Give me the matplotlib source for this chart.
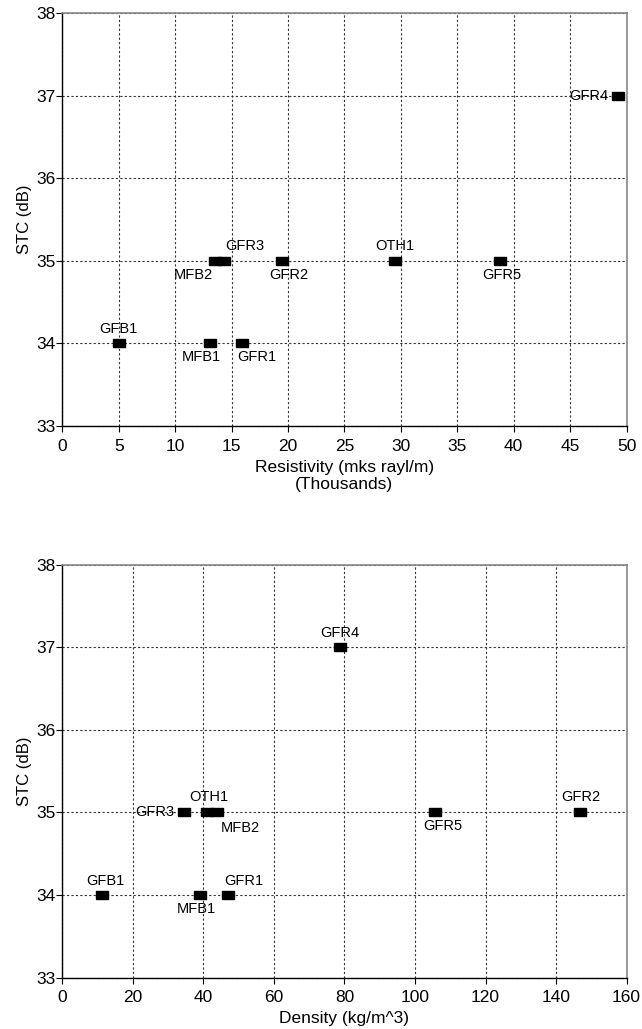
import numpy as np
import matplotlib.pyplot as plt

plt.rcParams['font.family'] = ['Liberation Sans', 'DejaVu Sans']

# top chart: STC vs flow resistivity (thousands of mks rayl/m)
res_names = ['GFB1', 'MFB1', 'GFR1', 'MFB2', 'GFR3', 'GFR2', 'OTH1', 'GFR5', 'GFR4']
res_x = [5.0, 13.1, 15.9, 13.5, 14.3, 19.5, 29.5, 38.8, 49.2]
res_stc = [34, 34, 34, 35, 35, 35, 35, 35, 37]

# bottom chart: STC vs density
den_names = ['GFB1', 'MFB1', 'GFR1', 'GFR3', 'OTH1', 'MFB2', 'GFR5', 'GFR2', 'GFR4']
den_x = [11.3, 39.1, 47.0, 34.6, 41.0, 44.0, 105.7, 146.9, 78.7]
den_stc = [34, 34, 34, 35, 35, 35, 35, 35, 37]

# label placement (pixel offsets, alignment)
res_lab = {
    'GFB1': (0, 7, 'center', 'bottom'),
    'MFB1': (-9, -7, 'center', 'top'),
    'GFR1': (15, -7, 'center', 'top'),
    'MFB2': (-21, -7, 'center', 'top'),
    'GFR3': (21, 8, 'center', 'bottom'),
    'GFR2': (6, -7, 'center', 'top'),
    'OTH1': (0, 8, 'center', 'bottom'),
    'GFR5': (2, -7, 'center', 'top'),
    'GFR4': (-9, 0, 'right', 'center'),
}
den_lab = {
    'GFB1': (3, 7, 'center', 'bottom'),
    'MFB1': (-4, -7, 'center', 'top'),
    'GFR1': (16, 7, 'center', 'bottom'),
    'GFR3': (-10, 0, 'right', 'center'),
    'OTH1': (2, 8, 'center', 'bottom'),
    'MFB2': (23, -9, 'center', 'top'),
    'GFR5': (8, -7, 'center', 'top'),
    'GFR2': (0, 8, 'center', 'bottom'),
    'GFR4': (0, 7, 'center', 'bottom'),
}

rect = [(-1, -0.64), (1, -0.64), (1, 0.64), (-1, 0.64), (-1, -0.64)]

fig = plt.figure(figsize=(6.42, 10.29), dpi=100)
ax1 = fig.add_axes([0.097, 0.586, 0.879, 0.401])
ax2 = fig.add_axes([0.097, 0.050, 0.879, 0.401])


def style(ax, xmax, xstep):
    ax.set_xlim(0, xmax)
    ax.set_ylim(33, 38)
    ax.set_xticks(np.arange(0, xmax + 1, xstep))
    ax.set_yticks(range(33, 39))
    ax.grid(True, color='#333333', linestyle=(0, (2, 2)), linewidth=0.8)
    ax.set_axisbelow(True)
    for s in ['top', 'right']:
        ax.spines[s].set_color('#888888')
        ax.spines[s].set_linewidth(1.2)
    for s in ['left', 'bottom']:
        ax.spines[s].set_color('black')
        ax.spines[s].set_linewidth(1.0)
    ax.tick_params(direction='out', length=4, width=0.8, labelsize=12.5)
    ax.tick_params(axis='y', pad=0.5)
    ax.tick_params(axis='x', pad=5)
    ax.set_ylabel('STC (dB)', fontsize=12, labelpad=3)


def draw(ax, names, xs, ys, lab):
    ax.plot(xs, ys, linestyle='none', marker=rect, markersize=8,
            color='black', clip_on=False, zorder=3)
    for n, x, y in zip(names, xs, ys):
        dx, dy, ha, va = lab[n]
        ax.annotate(n, (x, y), xytext=(dx, dy), textcoords='offset pixels',
                    ha=ha, va=va, fontsize=10.5)


style(ax1, 50, 5)
draw(ax1, res_names, res_x, res_stc, res_lab)
ax1.set_xlabel('Resistivity (mks rayl/m)\n(Thousands)', fontsize=12.5,
               labelpad=5, linespacing=1.15)

style(ax2, 160, 20)
draw(ax2, den_names, den_x, den_stc, den_lab)
ax2.set_xlabel('Density (kg/m^3)', fontsize=12.5, labelpad=4)

fig.savefig('out.png', dpi=100)
